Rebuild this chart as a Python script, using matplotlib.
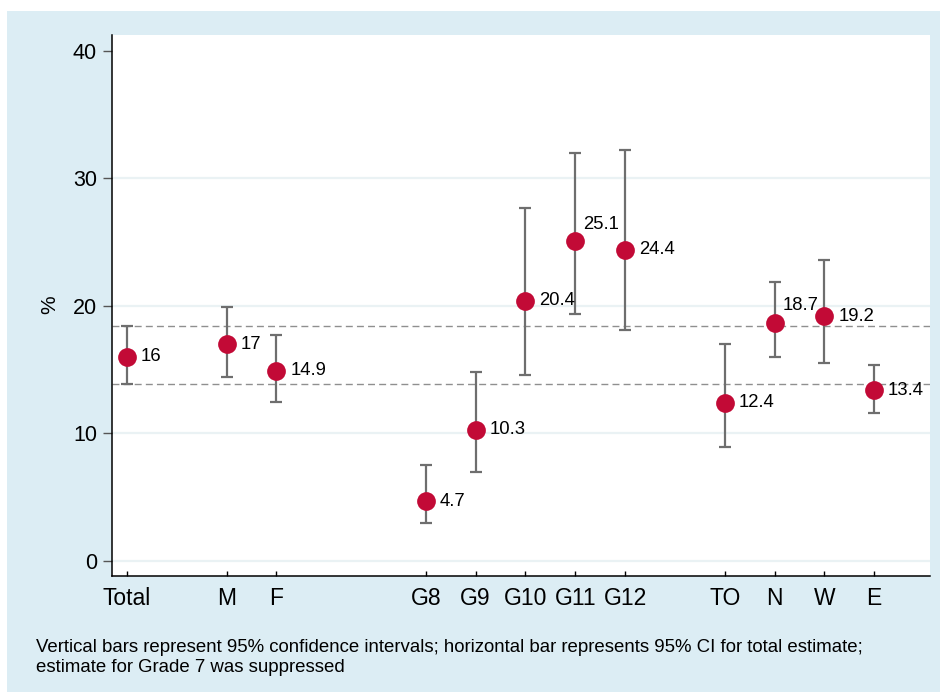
import matplotlib.pyplot as plt
from matplotlib.patches import Rectangle

# ----------------------------------------------------------------
# Data
# ----------------------------------------------------------------
labels = ["Total", "M", "F", "G8", "G9", "G10", "G11", "G12", "TO", "N", "W", "E"]
xpos = [1, 3, 4, 7, 8, 9, 10, 11, 13, 14, 15, 16]   # slot 6 = Grade 7 (suppressed)
estimate = [16, 17, 14.9, 4.7, 10.3, 20.4, 25.1, 24.4, 12.4, 18.7, 19.2, 13.4]
value_text = ["16", "17", "14.9", "4.7", "10.3", "20.4", "25.1", "24.4", "12.4", "18.7", "19.2", "13.4"]
ci_low = [13.9, 14.4, 12.5, 2.95, 7.0, 14.6, 19.4, 18.1, 8.9, 16.0, 15.5, 11.6]
ci_high = [18.4, 19.9, 17.7, 7.55, 14.8, 27.7, 32.0, 32.2, 17.0, 21.9, 23.6, 15.4]
yticks = [0, 10, 20, 30, 40]
footnote = ["Vertical bars represent 95% confidence intervals; horizontal bar represents 95% CI for total estimate;",
            "estimate for Grade 7 was suppressed"]

RED = "#C20A36"
BAR = "#6E6E6E"
OUTER = "#DCEDF4"
GRID = "#EAF2F4"

plt.rcParams['font.family'] = ['Liberation Sans', 'DejaVu Sans']

fig = plt.figure(figsize=(9.4, 6.92), dpi=100)
fig.patch.set_facecolor("white")
fig.patches.append(Rectangle((7 / 940, 0), 1 - 7 / 940, 681 / 692,
                             transform=fig.transFigure, facecolor=OUTER,
                             edgecolor="none", zorder=-10))

ax = fig.add_axes([112 / 940, 116 / 692, 818 / 940, 541 / 692])
ax.set_facecolor("white")

# grid lines
for y in yticks[:-1]:
    ax.axhline(y, color=GRID, lw=1.6, zorder=0)

# CI band of the total estimate
ax.axhline(ci_low[0], color="#8F8F8F", lw=1.0, dashes=(5, 3), zorder=1)
ax.axhline(ci_high[0], color="#8F8F8F", lw=1.0, dashes=(5, 3), zorder=1)

# error bars + points
lower_err = [e - lo for e, lo in zip(estimate, ci_low)]
upper_err = [hi - e for e, hi in zip(estimate, ci_high)]
ax.errorbar(xpos, estimate, yerr=[lower_err, upper_err], fmt="none",
            ecolor=BAR, elinewidth=1.6, capsize=4.5, capthick=1.6, zorder=2)
ax.plot(xpos, estimate, "o", color=RED, markersize=13.5, markeredgewidth=0, zorder=3)

# value labels (two of them sit up-right)
for lab, x, y, t in zip(labels, xpos, estimate, value_text):
    if lab in ("G11", "N"):
        ax.annotate(t, (x, y), xytext=(5.5, 12), textcoords="offset points",
                    ha="left", va="center", fontsize=13.3)
    else:
        ax.annotate(t, (x, y), xytext=(10, 0), textcoords="offset points",
                    ha="left", va="center", fontsize=13.3)

ax.set_xlim(0.70, 17.12)
ax.set_ylim(-1.18, 41.25)
ax.set_xticks(xpos)
ax.set_xticklabels(labels, fontsize=16.5)
ax.set_yticks(yticks)
ax.set_yticklabels([str(v) for v in yticks], fontsize=15.5)
ax.tick_params(axis="x", direction="in", length=3.5, width=1, color="black", pad=8)
ax.tick_params(axis="y", direction="out", length=6.5, width=1, color="#555555", pad=4.3)
ax.set_ylabel("%", fontsize=15)
ax.yaxis.set_label_coords(-0.064, 0.501)

for side in ("top", "right"):
    ax.spines[side].set_visible(False)
for side in ("left", "bottom"):
    ax.spines[side].set_linewidth(1.1)
    ax.spines[side].set_color("black")

fig.text(36 / 940, 1 - 652 / 692, footnote[0], fontsize=13.4, ha="left", va="baseline")
fig.text(36 / 940, 1 - 672 / 692, footnote[1], fontsize=13.4, ha="left", va="baseline")

fig.savefig("out.png", dpi=100)
